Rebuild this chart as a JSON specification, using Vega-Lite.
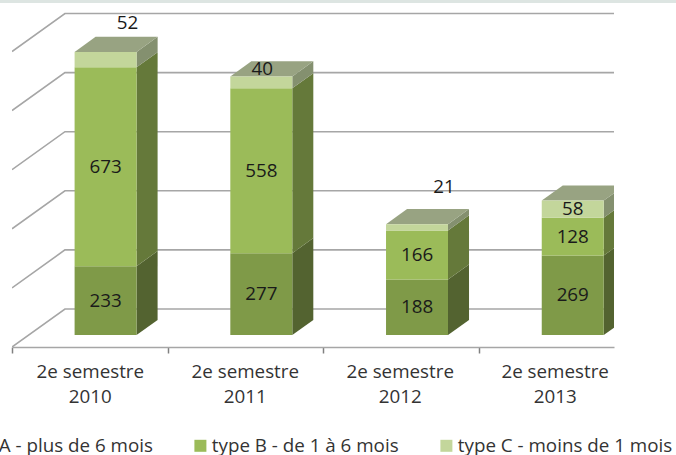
{
"$schema":"https://vega.github.io/schema/vega-lite/v6.json",
"width":602,"height":347,
"autosize":"none",
"padding":{"left":12,"top":0,"right":62,"bottom":108},
"background":"white",
"config":{"view":{"stroke":null},"font":"Open Sans"},
"data":{"values":[
{"period":"2e semestre 2010","type":"type A - plus de 6 mois","value":233},
{"period":"2e semestre 2010","type":"type B - de 1 à 6 mois","value":673},
{"period":"2e semestre 2010","type":"type C - moins de 1 mois","value":52},
{"period":"2e semestre 2011","type":"type A - plus de 6 mois","value":277},
{"period":"2e semestre 2011","type":"type B - de 1 à 6 mois","value":558},
{"period":"2e semestre 2011","type":"type C - moins de 1 mois","value":40},
{"period":"2e semestre 2012","type":"type A - plus de 6 mois","value":188},
{"period":"2e semestre 2012","type":"type B - de 1 à 6 mois","value":166},
{"period":"2e semestre 2012","type":"type C - moins de 1 mois","value":21},
{"period":"2e semestre 2013","type":"type A - plus de 6 mois","value":269},
{"period":"2e semestre 2013","type":"type B - de 1 à 6 mois","value":128},
{"period":"2e semestre 2013","type":"type C - moins de 1 mois","value":58}
]},
"transform":[
{"stack":"value","groupby":["period"],"sort":[{"field":"type","order":"ascending"}],"as":["v0","v1"]},
{"calculate":"toNumber(slice(datum.period,-4))-2010","as":"idx"},
{"calculate":"datum.idx+0.402","as":"left"},
{"calculate":"datum.idx+0.8","as":"right"},
{"calculate":"datum.v0+40.6","as":"b0"},
{"calculate":"datum.v1+40.6","as":"b1"},
{"calculate":"(datum.b0+datum.b1)/2","as":"mid"},
{"calculate":"(datum.left+datum.right)/2","as":"cx"}
],
"layer":[
{"data":{"values":[{"band":"top"}]},"transform":[],
 "mark":{"type":"rect","color":"#DDE5E2"},
 "encoding":{
  "x":{"datum":-0.08,"type":"quantitative","scale":{"domain":[0,3.866],"nice":false,"zero":false},"axis":null},
  "x2":{"datum":4.27},
  "y":{"datum":1174.3,"type":"quantitative","scale":{"domain":[0,1174.3],"nice":false,"zero":false},"axis":null},
  "y2":{"datum":1164}
 }},
{"data":{"values":[{"g":0},{"g":200},{"g":400},{"g":600},{"g":800},{"g":1000}]},
 "transform":[
  {"calculate":"[0,1,2]","as":"t"},{"flatten":["t"]},
  {"calculate":"[0,0.34,3.866][datum.t]","as":"px"},
  {"calculate":"datum.g+(datum.t>0?128.6:0)","as":"py"}
 ],
 "mark":{"type":"line","color":"#A6A6A6","strokeWidth":1.6,"clip":true},
 "encoding":{
  "x":{"field":"px","type":"quantitative","scale":{"domain":[0,3.866],"nice":false,"zero":false},
   "axis":{"orient":"bottom","values":[0,1,2,3],"labels":false,"title":null,"grid":false,"domainColor":"#A6A6A6","domainWidth":1.6,"tickColor":"#808080","tickWidth":1.5,"tickSize":6}},
  "y":{"field":"py","type":"quantitative","stack":null,"axis":null},
  "detail":{"field":"g"},
  "order":{"field":"t"}
 }},
{"transform":[
  {"calculate":"[0,1]","as":"t"},{"flatten":["t"]},
  {"calculate":"datum.right+datum.t*0.135","as":"sx"},
  {"calculate":"datum.b0+datum.t*51","as":"sy0"},
  {"calculate":"datum.b1+datum.t*51","as":"sy1"}
 ],
 "mark":{"type":"area","orient":"vertical","clip":true},
 "encoding":{
  "x":{"field":"sx","type":"quantitative","axis":null},
  "y":{"field":"sy0","type":"quantitative","stack":null,"axis":null},
  "y2":{"field":"sy1"},
  "color":{"field":"type","type":"nominal","legend":null,"scale":{"range":["#536330","#65793A","#84906F"]}},
  "detail":{"field":"period"}
 }},
{"transform":[
  {"filter":"indexof(datum.type,'type C')==0"},
  {"calculate":"[0,1]","as":"t"},{"flatten":["t"]},
  {"calculate":"datum.b1+datum.t*51","as":"ty"},
  {"calculate":"datum.left+datum.t*0.135","as":"tx0"},
  {"calculate":"datum.right+datum.t*0.135","as":"tx1"}
 ],
 "mark":{"type":"area","orient":"horizontal","clip":true,"color":"#98A382"},
 "encoding":{
  "y":{"field":"ty","type":"quantitative","stack":null,"axis":null},
  "x":{"field":"tx0","type":"quantitative","axis":null},
  "x2":{"field":"tx1"},
  "detail":{"field":"period"}
 }},
{"mark":{"type":"rect"},
 "encoding":{
  "x":{"field":"left","type":"quantitative",
   "axis":{"orient":"bottom","values":[0.5,1.495,2.49,3.485],"title":null,"grid":false,"domain":false,"ticks":false,"labelPadding":15,"labelFontSize":18.8,"labelColor":"#333333","labelLineHeight":25,"labelBound":false,"labelFlush":false,"labelOverlap":false,
    "labelExpr":"['2e semestre',toString(2010+floor(datum.value))]"}},
  "x2":{"field":"right"},
  "y":{"field":"b0","type":"quantitative","stack":null,"axis":null},
  "y2":{"field":"b1"},
  "color":{"field":"type","type":"nominal","title":null,
   "scale":{"range":["#7F9A48","#9BBB59","#C3D69B"]},
   "legend":{"orient":"none","legendX":-77,"legendY":436,"direction":"horizontal","columns":3,"columnPadding":38,"symbolType":"square","symbolSize":144,"symbolStrokeWidth":0,"labelFontSize":18.8,"labelColor":"#333333","labelOffset":2,"labelLimit":400,"title":null,"padding":0}}
 }},
{"transform":[{"filter":"datum.value!=52&&datum.value!=40&&datum.value!=21"}],
 "mark":{"type":"text","fontSize":18.8,"color":"#1A1A1A"},
 "encoding":{"x":{"field":"cx","type":"quantitative","axis":null},"y":{"field":"mid","type":"quantitative","stack":null,"axis":null},"text":{"field":"value","type":"quantitative"}}},
{"transform":[{"filter":"datum.value==52"}],
 "mark":{"type":"text","fontSize":18.8,"color":"#1A1A1A","dx":22,"dy":-37},
 "encoding":{"x":{"field":"cx","type":"quantitative","axis":null},"y":{"field":"mid","type":"quantitative","stack":null,"axis":null},"text":{"field":"value","type":"quantitative"}}},
{"transform":[{"filter":"datum.value==40"}],
 "mark":{"type":"text","fontSize":18.8,"color":"#1A1A1A","dx":1,"dy":-13},
 "encoding":{"x":{"field":"cx","type":"quantitative","axis":null},"y":{"field":"mid","type":"quantitative","stack":null,"axis":null},"text":{"field":"value","type":"quantitative"}}},
{"transform":[{"filter":"datum.value==21"}],
 "mark":{"type":"text","fontSize":18.8,"color":"#1A1A1A","dx":27,"dy":-40},
 "encoding":{"x":{"field":"cx","type":"quantitative","axis":null},"y":{"field":"mid","type":"quantitative","stack":null,"axis":null},"text":{"field":"value","type":"quantitative"}}}
],
"resolve":{"scale":{"color":"independent"},"axis":{"x":"independent"}}
}
